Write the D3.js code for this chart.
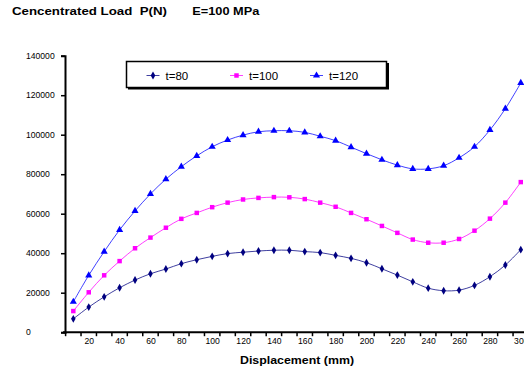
<!DOCTYPE html>
<html><head><meta charset="utf-8">
<script src="https://cdn.jsdelivr.net/npm/d3@7"></script>
<style>
html,body{margin:0;padding:0;background:#fff;}
svg{display:block;font-family:"Liberation Sans",Arial,sans-serif;}
</style></head>
<body><svg id="c" width="524" height="370"></svg>
<script>
const displacement = [10,20,30,40,50,60,70,80,90,100,110,120,130,140,150,160,170,180,190,200,210,220,230,240,250,260,270,280,290,300];
const t80  = [6750,12700,17900,22500,26400,29600,32000,34700,36700,38400,39800,40500,41100,41500,41500,40800,40300,38900,37400,35200,32100,28900,25500,22300,21000,21300,23700,28100,34000,41800];
const t100 = [10700,20200,28800,36000,42500,47900,52900,57400,60400,63300,65600,67200,68000,68400,68300,67400,65600,63500,60400,57200,53800,50300,46900,45300,45300,47200,51400,57500,65600,76000];
const t120 = [15400,28800,40800,51800,61400,70000,77500,83800,89300,93900,97300,99800,101500,102000,102000,101200,99200,97000,93700,90400,87300,84600,82700,82700,84300,88300,93900,102400,113200,126200];
const yTicks = [0,20000,40000,60000,80000,100000,120000,140000];
const xLabels = [20,40,60,80,100,120,140,160,180,200,220,240,260,280,300];
const seriesNames = ["t=80","t=100","t=120"];

const svg = d3.select("#c");
const x = d3.scaleLinear().domain([5,305]).range([65.6,528.5]);
const y = d3.scaleLinear().domain([0,140000]).range([332.2,55.7]);

// title
svg.append("text").attr("x",12).attr("y",15.3).attr("font-size","10px").attr("font-weight","bold")
  .attr("fill","#000").attr("xml:space","preserve")
  .attr("textLength",155).attr("lengthAdjust","spacingAndGlyphs").text("Cencentrated Load  P(N)");
svg.append("text").attr("x",192.3).attr("y",15.3).attr("font-size","10px").attr("font-weight","bold")
  .attr("fill","#000").attr("textLength",67).attr("lengthAdjust","spacingAndGlyphs").text("E=100 MPa");

// y axis
const ya = svg.append("g").attr("transform","translate(65,0)")
  .call(d3.axisLeft(y).tickValues(yTicks).tickSize(4).tickFormat(""));
ya.select(".domain").attr("stroke","#000").attr("stroke-width",2);
ya.selectAll(".tick line").attr("stroke","#000").attr("stroke-width",1.5);
svg.append("g").selectAll("text").data(yTicks).join("text")
  .attr("x",26).attr("y",d=>y(d)).attr("dy","0.35em").attr("font-size","8.6px").attr("fill","#000")
  .text(d=>d);

// x axis
const xa = svg.append("g").attr("transform","translate(0,332.2)");
xa.append("line").attr("x1",63).attr("x2",524).attr("y1",0).attr("y2",0).attr("stroke","#000").attr("stroke-width",2);
const tickPos = d3.range(5,306,10);
xa.selectAll("line.tk").data(tickPos).join("line").attr("class","tk")
  .attr("x1",d=>x(d)).attr("x2",d=>x(d)).attr("y1",0).attr("y2",4).attr("stroke","#000").attr("stroke-width",1.5);
const xl = svg.append("g").attr("transform","translate(0,332.2)")
  .call(d3.axisBottom(x).tickValues(xLabels).tickSize(0).tickPadding(6));
xl.select(".domain").remove();
xl.selectAll("text").attr("font-size","8.6px").attr("fill","#000").attr("font-family","Liberation Sans, Arial, sans-serif");

svg.append("text").attr("x",240).attr("y",364).attr("font-size","10px")
  .attr("font-weight","bold").attr("fill","#000")
  .attr("textLength",114).attr("lengthAdjust","spacingAndGlyphs").text("Displacement (mm)");

// series
const series = [
  {name:seriesNames[0], vals:t80, color:"#000080", sym:d3.symbolDiamond, size:18},
  {name:seriesNames[1], vals:t100, color:"#FF00FF", sym:d3.symbolSquare, size:20},
  {name:seriesNames[2], vals:t120, color:"#0000FF", sym:d3.symbolTriangle, size:22}
];
const line = d3.line().x((d,i)=>x(displacement[i])).y(d=>y(d)).curve(d3.curveCatmullRom);
series.forEach(s=>{
  svg.append("path").attr("d",line(s.vals)).attr("fill","none").attr("stroke",s.color).attr("stroke-width",1).attr("stroke-opacity",0.75);
  svg.append("g").selectAll("path").data(s.vals).join("path")
    .attr("transform",(d,i)=>`translate(${x(displacement[i])},${y(d)})`)
    .attr("d",d3.symbol().type(s.sym).size(s.size)).attr("fill",s.color);
});

// legend
const lg = svg.append("g");
lg.append("rect").attr("x",128).attr("y",63).attr("width",261).attr("height",26.5).attr("fill","#000");
lg.append("rect").attr("x",126.5).attr("y",61.5).attr("width",260).attr("height",26).attr("fill","#fff").attr("stroke","#000").attr("stroke-width",1.5);
const lx = [146.5,230,310];
series.forEach((s,i)=>{
  lg.append("line").attr("x1",lx[i]).attr("x2",lx[i]+13).attr("y1",75.5).attr("y2",75.5).attr("stroke",s.color).attr("stroke-width",1).attr("stroke-opacity",0.75);
  lg.append("path").attr("transform",`translate(${lx[i]+6.5},75.5)`).attr("d",d3.symbol().type(s.sym).size(s.size)).attr("fill",s.color);
  lg.append("text").attr("x",lx[i]+19).attr("y",75.5).attr("dy","0.36em").attr("font-size","11.5px").attr("fill","#000").text(s.name);
});
</script></body></html>
